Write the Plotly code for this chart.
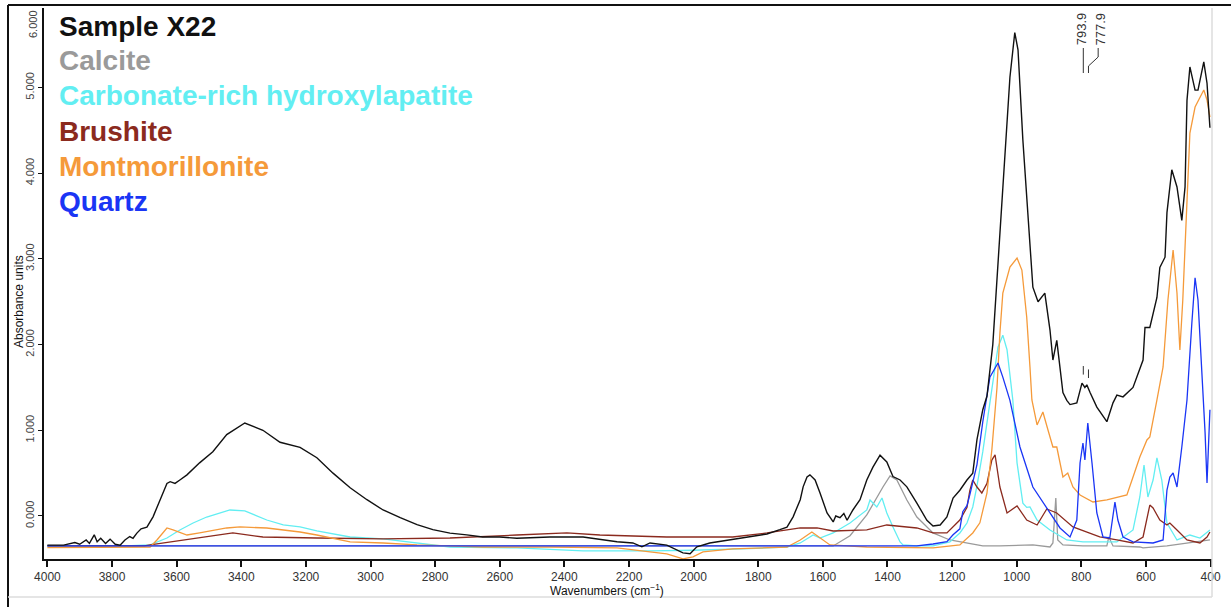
import plotly.graph_objects as go

# ---------------- data ----------------
sample_wn = [4000, 3950, 3915, 3900, 3880, 3870, 3855, 3846, 3835, 3820, 3806, 3790, 3775, 3760, 3745,
             3735, 3723, 3710, 3692, 3673, 3651, 3630, 3620, 3605, 3590, 3568, 3529, 3488, 3445, 3389,
             3333, 3280, 3218, 3166, 3116, 3063, 3011, 2961, 2908, 2856, 2807, 2754, 2702, 2653, 2600,
             2547, 2445, 2342, 2237, 2188, 2160, 2135, 2083, 2033, 2011, 1990, 1950, 1879, 1826, 1773,
             1733, 1711, 1692, 1670, 1661, 1649, 1640, 1624, 1609, 1587, 1568, 1560, 1547, 1535, 1525,
             1507, 1485, 1464, 1445, 1423, 1402, 1383, 1361, 1340, 1309, 1278, 1259, 1237, 1216, 1197,
             1176, 1154, 1136, 1123, 1105, 1092, 1074, 1052, 1036, 1021, 1006, 996, 981, 965, 950, 934,
             913, 897, 888, 876, 866, 857, 845, 835, 814, 798, 789, 783, 773, 752, 721, 702, 690, 671,
             640, 609, 603, 588, 566, 557, 541, 535, 520, 504, 489, 479, 473, 464, 448, 439, 421, 411, 402]
sample_abs = [-0.34, -0.34, -0.31, -0.33, -0.28, -0.32, -0.22, -0.30, -0.26, -0.32, -0.27, -0.33, -0.34, -0.28, -0.24,
              -0.26, -0.20, -0.15, -0.13, -0.01, 0.19, 0.38, 0.40, 0.38, 0.42, 0.48, 0.62, 0.75, 0.95, 1.085,
              1.00, 0.86, 0.80, 0.68, 0.50, 0.33, 0.19, 0.07, -0.02, -0.10, -0.16, -0.20, -0.22, -0.245, -0.245,
              -0.26, -0.245, -0.245, -0.30, -0.315, -0.36, -0.315, -0.34, -0.43, -0.44, -0.36, -0.315, -0.27, -0.245, -0.21,
              -0.16, -0.13, -0.01, 0.19, 0.34, 0.455, 0.48, 0.42, 0.27, 0.035, -0.07, 0.0, -0.02, 0.03, -0.05,
              0.07, 0.19, 0.42, 0.57, 0.71, 0.63, 0.46, 0.42, 0.34, 0.15, -0.05, -0.117, -0.105, -0.012, 0.21,
              0.30, 0.42, 0.50, 0.89, 1.24, 1.40, 2.00, 3.30, 4.27, 5.12, 5.64, 5.44, 4.39, 3.49, 2.67, 2.50,
              2.60, 2.17, 1.82, 2.05, 1.74, 1.44, 1.35, 1.30, 1.32, 1.55, 1.50, 1.53, 1.44, 1.27, 1.10, 1.32, 1.41, 1.39,
              1.50, 1.82, 2.20, 2.20, 2.55, 2.90, 3.02, 3.54, 4.04, 3.84, 3.45, 3.84, 4.85, 5.24, 4.97, 4.97, 5.30, 5.05, 4.53]

calcite_wn = [4000, 3000, 2000, 1568, 1516, 1464, 1414, 1392, 1371, 1340, 1309, 1259, 1207, 1154, 1105,
              1052, 950, 897, 888, 879, 873, 857, 795, 721, 715, 702, 619, 609, 535, 402]
calcite_abs = [-0.35, -0.35, -0.35, -0.35, -0.23, 0.012, 0.338, 0.467, 0.42, 0.187, -0.012, -0.198, -0.28, -0.315, -0.35,
               -0.35, -0.338, -0.362, -0.315, 0.21, -0.28, -0.338, -0.35, -0.35, -0.245, -0.35, -0.362, -0.373, -0.35, -0.28]

apatite_wn = [4000, 3760, 3682, 3630, 3590, 3549, 3507, 3435, 3389, 3373, 3321, 3270, 3218, 3166, 3063,
              2961, 2856, 2754, 2547, 2342, 2135, 2000, 1773, 1711, 1670, 1630, 1609, 1568, 1516, 1464,
              1454, 1433, 1417, 1402, 1383, 1361, 1352, 1309, 1259, 1207, 1176, 1154, 1136, 1123, 1105,
              1092, 1074, 1058, 1043, 1030, 1012, 999, 981, 969, 959, 937, 897, 845, 795, 690, 640, 619,
              606, 594, 578, 566, 551, 535, 504, 464, 433, 402]
apatite_abs = [-0.35, -0.35, -0.338, -0.257, -0.163, -0.082, -0.012, 0.07, 0.06, 0.035, -0.047, -0.105, -0.128, -0.175, -0.245,
               -0.268, -0.315, -0.362, -0.373, -0.408, -0.408, -0.40, -0.373, -0.362, -0.315, -0.222, -0.257, -0.198, -0.082, 0.07,
               0.187, 0.105, 0.21, 0.035, -0.128, -0.303, -0.338, -0.35, -0.35, -0.303, -0.198, -0.082, 0.105, 0.35, 0.75,
               1.10, 1.55, 1.97, 2.11, 1.94, 1.35, 0.62, 0.15, 0.10, 0.105, -0.047, -0.163, -0.28, -0.303, -0.303, -0.163, 0.222,
               0.595, 0.222, 0.42, 0.677, 0.42, -0.082, -0.28, -0.222, -0.257, -0.163]

brushite_wn = [4000, 3700, 3682, 3580, 3529, 3426, 3333, 3218, 3166, 2961, 2754, 2547, 2392, 2290, 2135,
               2083, 1879, 1773, 1670, 1618, 1568, 1464, 1402, 1309, 1259, 1216, 1176, 1154, 1145, 1136,
               1123, 1108, 1092, 1077, 1067, 1052, 1030, 999, 969, 937, 907, 876, 826, 743, 690, 640,
               609, 588, 578, 557, 535, 526, 504, 473, 433, 411, 402]
brushite_abs = [-0.35, -0.35, -0.338, -0.28, -0.257, -0.198, -0.245, -0.257, -0.257, -0.268, -0.257, -0.222, -0.198, -0.222, -0.245,
                -0.245, -0.245, -0.198, -0.14, -0.14, -0.175, -0.163, -0.105, -0.14, -0.198, -0.198, -0.047, 0.10, 0.30, 0.42,
                0.338, 0.268, 0.38, 0.653, 0.712, 0.338, 0.035, 0.117, -0.047, -0.105, 0.082, 0.035, -0.128, -0.245, -0.28, -0.315,
                -0.245, 0.128, 0.093, -0.047, -0.105, -0.082, -0.163, -0.28, -0.315, -0.245, -0.187]

montmor_wn = [4000, 3700, 3682, 3661, 3630, 3611, 3568, 3529, 3445, 3404, 3321, 3218, 3166, 3063, 2961,
              2856, 2653, 2445, 2237, 2135, 2083, 2033, 2002, 1971, 1879, 1711, 1670, 1634, 1609, 1578,
              1464, 1259, 1176, 1136, 1114, 1092, 1077, 1061, 1052, 1043, 1021, 999, 984, 969, 959, 953,
              937, 919, 903, 888, 876, 857, 842, 826, 804, 764, 721, 659, 640, 619, 597, 588, 566, 547,
              532, 516, 504, 495, 486, 473, 464, 448, 433, 421, 411, 402]
montmor_abs = [-0.37, -0.37, -0.362, -0.28, -0.14, -0.163, -0.222, -0.198, -0.14, -0.128, -0.14, -0.187, -0.222, -0.303, -0.315,
               -0.338, -0.362, -0.362, -0.373, -0.42, -0.443, -0.50, -0.478, -0.42, -0.385, -0.362, -0.28, -0.187, -0.257, -0.338,
               -0.362, -0.373, -0.338, -0.198, -0.08, 0.27, 0.77, 1.50, 2.135, 2.60, 2.905, 3.01, 2.87, 2.32, 1.74, 1.354,
               1.062, 1.214, 1.00, 0.805, 0.805, 0.455, 0.502, 0.338, 0.245, 0.163, 0.187, 0.245, 0.455, 0.688, 0.887, 0.922, 1.354, 1.739,
               2.52, 3.104, 2.602, 1.937, 2.52, 3.687, 4.469, 4.772, 4.889, 4.971, 4.854, 4.656]

quartz_wn = [4000, 3000, 2000, 1309, 1259, 1216, 1197, 1176, 1167, 1154, 1145, 1123, 1105, 1083, 1058,
             1043, 1021, 990, 950, 897, 866, 835, 814, 804, 795, 789, 780, 767, 752, 733, 712, 696,
             687, 671, 640, 578, 547, 535, 526, 516, 504, 489, 473, 458, 448, 439, 427, 417, 411, 402]
quartz_abs = [-0.35, -0.35, -0.35, -0.35, -0.327, -0.30, -0.22, -0.15, 0.05, 0.12, 0.25, 0.60, 1.10, 1.62, 1.785,
              1.62, 1.35, 0.805, 0.338, 0.035, -0.14, -0.245, -0.047, 0.618, 0.852, 0.653, 1.085, 0.618, 0.035, -0.245, -0.257, 0.163,
              -0.047, -0.245, -0.303, -0.315, -0.28, 0.303, 0.455, 0.502, 0.338, 0.805, 1.354, 2.25, 2.78, 2.52, 1.74, 0.97, 0.385, 1.24]

series_names = ["Calcite", "Carbonate-rich hydroxylapatite", "Brushite", "Montmorillonite", "Quartz", "Sample X22"]
series_colors = ["#9a9a9a", "#62EEF2", "#8B2A1E", "#F59A3A", "#1A35F5", "#111111"]
legend_order = ["Sample X22", "Calcite", "Carbonate-rich hydroxylapatite", "Brushite", "Montmorillonite", "Quartz"]

y_tick_vals = [0, 1, 2, 3, 4, 5]
y_tick_text = ["0.000", "1.000", "2.000", "3.000", "4.000", "5.000"]
x_tick_vals = [4000, 3800, 3600, 3400, 3200, 3000, 2800, 2600, 2400, 2200, 2000, 1800, 1600, 1400, 1200, 1000, 800, 600, 400]
peak_labels = [793.9, 777.9]
peak_heights = [1.62, 1.58]

# ---------------- figure ----------------
data_sets = {
    "Calcite": (calcite_wn, calcite_abs),
    "Carbonate-rich hydroxylapatite": (apatite_wn, apatite_abs),
    "Brushite": (brushite_wn, brushite_abs),
    "Montmorillonite": (montmor_wn, montmor_abs),
    "Quartz": (quartz_wn, quartz_abs),
    "Sample X22": (sample_wn, sample_abs),
}
color_of = dict(zip(series_names, series_colors))

fig = go.Figure()
for name in series_names:
    wn, ab = data_sets[name]
    fig.add_trace(go.Scatter(x=wn, y=ab, mode="lines", name=name,
                             line=dict(color=color_of[name], width=1.4 if name == "Sample X22" else 1.3),
                             showlegend=False))

W, H = 1231, 607
L, R, T, B = 44, 19, 8, 48
pw, ph = W - L - R, H - T - B

def px_x(px):
    return (px - L) / pw

def px_y(py):
    return (H - B - py) / ph

FONT = "Liberation Sans, Arial, sans-serif"
annotations = []
legend_y_px = [27, 61, 96, 131, 166, 201]
for name, ypx in zip(legend_order, legend_y_px):
    annotations.append(dict(text="<b>%s</b>" % name, xref="paper", yref="paper", x=px_x(57), y=px_y(ypx),
                            xanchor="left", yanchor="middle", showarrow=False,
                            font=dict(family=FONT, size=28, color=color_of[name])))

annotations.append(dict(text="Absorbance units", xref="paper", yref="paper", x=px_x(19), y=px_y(302),
                        textangle=-90, showarrow=False, xanchor="center", yanchor="middle",
                        font=dict(family=FONT, size=12, color="#111")))
annotations.append(dict(text="Wavenumbers (cm<sup>−1</sup>)", xref="paper", yref="paper", x=px_x(607), y=px_y(590),
                        showarrow=False, xanchor="center", yanchor="middle",
                        font=dict(family=FONT, size=12, color="#111")))
annotations.append(dict(text="6.000", xref="paper", yref="paper", x=px_x(33), y=px_y(24),
                        textangle=-90, showarrow=False, xanchor="center", yanchor="middle",
                        font=dict(family=FONT, size=11, color="#444")))

shifts = [0, 14]
for pk, sh in zip(peak_labels, shifts):
    annotations.append(dict(text="%.1f" % pk, xref="x", yref="paper", x=pk, y=px_y(29), xshift=sh - 1,
                            textangle=-90, showarrow=False, xanchor="center", yanchor="middle",
                            font=dict(family=FONT, size=13, color="#333")))

shapes = []
# frame lines
shapes.append(dict(type="line", xref="paper", yref="paper", x0=px_x(8), x1=px_x(1231), y0=px_y(5), y1=px_y(5),
                   line=dict(color="#111", width=2)))
shapes.append(dict(type="line", xref="paper", yref="paper", x0=px_x(8), x1=px_x(8), y0=px_y(5), y1=px_y(607),
                   line=dict(color="#111", width=2)))
shapes.append(dict(type="line", xref="paper", yref="paper", x0=px_x(1212), x1=px_x(1212), y0=px_y(8), y1=px_y(597),
                   line=dict(color="#dcdcdc", width=1.5)))
shapes.append(dict(type="line", xref="paper", yref="paper", x0=px_x(8), x1=px_x(1212), y0=px_y(597), y1=px_y(597),
                   line=dict(color="#dcdcdc", width=1.5)))
# peak label leader lines
shapes.append(dict(type="line", xref="x", yref="paper", x0=peak_labels[0], x1=peak_labels[0],
                   y0=px_y(48), y1=px_y(73), line=dict(color="#333", width=1)))
shapes.append(dict(type="line", xref="x", yref="paper", x0=peak_labels[1], x1=peak_labels[1],
                   y0=px_y(73), y1=px_y(66), line=dict(color="#333", width=1)))
shapes.append(dict(type="line", xref="x", yref="paper", x0=peak_labels[1], x1=peak_labels[1] - 30,
                   y0=px_y(66), y1=px_y(57), line=dict(color="#333", width=1)))
shapes.append(dict(type="line", xref="x", yref="paper", x0=peak_labels[1] - 30, x1=peak_labels[1] - 30,
                   y0=px_y(57), y1=px_y(48), line=dict(color="#333", width=1)))
# peak markers on the spectrum
for pk, hgt in zip(peak_labels, peak_heights):
    shapes.append(dict(type="line", xref="x", yref="y", x0=pk, x1=pk, y0=hgt + 0.03, y1=hgt + 0.13,
                       line=dict(color="#333", width=1)))

fig.update_layout(
    width=W, height=H,
    margin=dict(l=L, r=R, t=T, b=B, autoexpand=False),
    paper_bgcolor="white", plot_bgcolor="white",
    showlegend=False,
    annotations=annotations,
    shapes=shapes,
    xaxis=dict(range=[4010.5, 395.6], tickvals=x_tick_vals, ticks="outside", ticklen=6, tickwidth=1.5,
               tickcolor="#111", showline=True, linecolor="#111", linewidth=2, showgrid=False, zeroline=False,
               tickfont=dict(family=FONT, size=12, color="#333")),
    yaxis=dict(range=[-0.502, 5.928], tickvals=y_tick_vals, ticktext=y_tick_text, tickangle=-90,
               ticks="outside", ticklen=4, tickwidth=1, tickcolor="#111", showline=True, linecolor="#111",
               linewidth=1.5, showgrid=False, zeroline=False,
               tickfont=dict(family=FONT, size=11, color="#444")),
)

fig.write_html("out.html", config={"displayModeBar": False},
               post_script="document.body.style.margin='0';document.body.style.overflow='hidden';")
